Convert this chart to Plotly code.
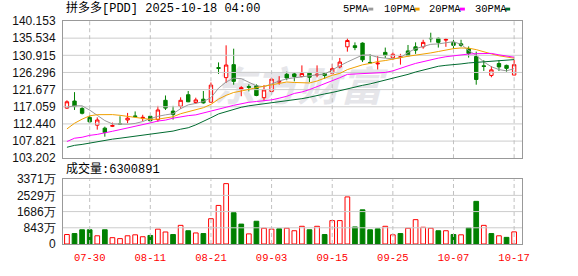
import plotly.graph_objects as go

# ---------------- data ----------------
dates = ["07-25", "07-28", "07-29", "07-30", "07-31", "08-01", "08-04", "08-05", "08-06", "08-07",
         "08-08", "08-11", "08-12", "08-13", "08-14", "08-15", "08-18", "08-19", "08-20", "08-21",
         "08-22", "08-25", "08-26", "08-27", "08-28", "08-29", "09-02", "09-03", "09-04", "09-05",
         "09-08", "09-09", "09-10", "09-11", "09-12", "09-15", "09-16", "09-17", "09-18", "09-19",
         "09-22", "09-23", "09-24", "09-25", "09-26", "09-29", "09-30", "10-01", "10-02", "10-03",
         "10-06", "10-07", "10-08", "10-09", "10-10", "10-13", "10-14", "10-15", "10-16", "10-17"]

opens = [116.7, 118.6, 116.6, 114.2, 112.1, 111.3, 111.8, 112.5, 113.5, 114.6,
         114.0, 114.5, 113.6, 118.8, 115.9, 117.2, 120.3, 118.2, 119.1, 118.3,
         127.6, 124.9, 128.4, 121.7, 122.5, 122.7, 119.5, 121.2, 123.7, 125.8,
         125.9, 125.2, 126.1, 125.6, 126.0, 126.1, 127.8, 133.2, 133.5, 134.2,
         129.0, 128.6, 131.7, 130.3, 130.4, 132.1, 133.2, 133.2, 135.5, 135.5,
         135.0, 134.4, 134.0, 132.7, 130.6, 128.1, 125.5, 128.7, 128.2, 125.6]
highs = [118.8, 121.0, 117.1, 114.8, 114.2, 111.7, 112.8, 114.5, 115.4, 115.8,
         114.9, 114.6, 117.3, 120.1, 117.3, 119.6, 121.3, 119.5, 121.3, 123.6,
         129.0, 133.6, 132.7, 122.6, 123.1, 123.1, 122.9, 124.8, 125.3, 126.5,
         126.3, 128.2, 126.3, 128.2, 126.2, 128.6, 130.2, 135.5, 134.4, 134.4,
         131.2, 130.7, 133.0, 131.7, 131.3, 133.7, 134.4, 135.1, 137.0, 135.7,
         135.5, 135.1, 135.1, 133.3, 131.9, 129.6, 128.0, 129.6, 128.4, 129.7]
lows = [116.5, 116.2, 115.0, 112.6, 110.9, 109.0, 111.6, 112.3, 112.6, 114.3,
        113.2, 113.0, 113.0, 116.2, 113.6, 116.5, 118.3, 117.8, 117.9, 118.1,
        125.9, 123.5, 123.0, 119.9, 121.2, 119.9, 118.7, 120.9, 123.0, 124.2,
        123.9, 125.0, 123.7, 125.0, 124.6, 125.8, 127.4, 131.9, 132.3, 129.1,
        128.8, 127.1, 130.2, 129.7, 128.4, 130.7, 131.3, 132.7, 134.4, 133.0,
        133.2, 132.7, 133.2, 130.3, 123.0, 126.7, 125.0, 126.7, 126.5, 125.6]
closes = [118.4, 117.1, 115.3, 113.0, 113.5, 110.1, 112.0, 112.4, 114.0, 114.4,
          114.2, 113.3, 116.2, 116.7, 115.0, 118.8, 118.4, 118.9, 118.1, 122.9,
          127.4, 128.3, 123.9, 122.2, 122.3, 120.1, 121.6, 124.5, 123.9, 124.8,
          125.2, 126.0, 125.0, 125.8, 125.5, 127.3, 129.1, 134.9, 133.0, 129.7,
          128.9, 128.8, 130.9, 131.2, 130.5, 130.8, 132.3, 134.4, 135.4, 134.4,
          135.2, 133.6, 133.6, 131.4, 124.4, 127.9, 127.0, 127.8, 127.4, 128.4]

ma5 = [116.93, 117.32, 117.32, 116.16, 114.75, 113.34, 112.44, 112.36, 112.36, 112.57,
       113.08, 113.86, 114.49, 114.88, 115.19, 116.55, 117.57, 117.96, 118.47, 119.50,
       122.06, 123.73, 124.76, 124.63, 123.73, 122.70, 122.45, 123.29, 123.99, 124.58,
       124.88, 125.14, 125.40, 125.66, 125.86, 127.07, 128.09, 129.12, 130.15, 130.99,
       130.99, 130.40, 130.15, 129.97, 130.27, 131.68, 132.71, 133.35, 133.87, 133.99,
       134.38, 134.58, 133.87, 132.20, 130.92, 129.12, 127.84, 127.07, 126.73, 127.32]
ma10 = [111.10, 112.62, 113.72, 114.62, 114.93, 115.00, 114.95, 114.75, 114.44, 114.11,
        113.80, 113.65, 113.72, 114.11, 114.37, 115.19, 115.78, 116.16, 116.80, 117.70,
        119.11, 120.14, 120.91, 121.29, 121.81, 122.19, 122.58, 122.96, 123.35, 123.73,
        123.60, 123.47, 123.47, 123.99, 124.76, 125.53, 126.04, 127.07, 127.71, 128.35,
        128.73, 129.24, 129.50, 129.81, 130.27, 130.66, 130.92, 131.30, 131.56, 131.94,
        132.33, 132.71, 132.89, 132.84, 132.45, 131.81, 131.30, 130.79, 130.40, 130.15]
ma20 = [107.69, 108.59, 108.85, 109.36, 109.62, 110.13, 110.46, 110.90, 111.34, 111.75,
        112.13, 112.71, 113.22, 113.47, 113.98, 114.42, 114.67, 114.88, 115.44, 115.90,
        116.37, 116.93, 117.45, 117.96, 118.27, 118.47, 118.60, 118.91, 119.37, 119.88,
        120.65, 121.04, 121.68, 122.45, 123.22, 123.99, 124.88, 125.78, 125.91, 126.04,
        126.04, 126.12, 126.30, 126.73, 127.32, 128.09, 128.73, 129.24, 129.63, 130.15,
        130.53, 130.79, 131.10, 131.25, 131.35, 131.43, 131.43, 131.04, 130.66, 130.40]
ma30 = [106.15, 106.67, 106.92, 107.31, 107.57, 107.95, 108.34, 108.59, 108.85, 109.23,
        109.49, 109.75, 110.05, 110.26, 110.51, 111.02, 111.41, 112.18, 113.08, 114.11,
        115.13, 115.78, 116.42, 116.93, 117.32, 117.57, 117.83, 118.09, 118.34, 118.60,
        118.86, 119.24, 119.63, 120.14, 120.52, 120.91, 121.42, 121.94, 122.45, 122.83,
        123.22, 123.73, 124.11, 124.63, 125.14, 125.78, 126.42, 126.94, 127.32, 127.96,
        128.22, 128.35, 128.60, 128.86, 129.04, 129.24, 129.37, 129.50, 129.63, 129.76]

# volume in 万 (10k shares); "r" = up day, "g" = down day
volumes = [493, 543, 740, 740, 427, 740, 329, 280, 427, 477,
           378, 444, 773, 625, 493, 970, 690, 575, 543, 1315,
           2006, 3140, 1628, 1036, 526, 1184, 822, 773, 789, 822,
           690, 921, 740, 921, 493, 1217, 1217, 2450, 888, 1776,
           740, 789, 921, 477, 543, 822, 1266, 871, 822, 690,
           690, 493, 477, 838, 2219, 970, 543, 427, 345, 630]
vol_dir = ["r", "g", "g", "g", "r", "g", "r", "r", "r", "r",
           "r", "g", "r", "r", "g", "r", "g", "r", "g", "r",
           "r", "r", "g", "g", "r", "g", "r", "r", "g", "r",
           "r", "r", "g", "r", "g", "r", "r", "r", "g", "g",
           "g", "g", "r", "r", "g", "r", "r", "r", "r", "g",
           "r", "g", "r", "g", "g", "r", "g", "r", "g", "r"]

x_tick_labels = ["07-30", "08-11", "08-21", "09-03", "09-15", "09-25", "10-07", "10-17"]
price_ticks = [103.202, 107.821, 112.440, 117.059, 121.677, 126.296, 130.915, 135.534, 140.153]
vol_ticks = [0, 843, 1686, 2529, 3371]
vol_tick_text = ["0", "843万", "1686万", "2529万", "3371万"]

title_text = "拼多多[PDD] 2025-10-18 04:00"
vol_title = "成交量:6300891"
ma_names = ["5PMA", "10PMA", "20PMA", "30PMA"]
watermark = "东方财富"

# ---------------- styles ----------------
RED = "#ff0000"
GREEN = "#008000"
MA_COLORS = ["#9a9a9a", "#f0a000", "#ff00ff", "#006b30"]
GRID = "#cccccc"
VGRID = "#c0c0c0"
BORDER = "#999999"
W, H = 578, 276
L, R, T, B = 56, 522, 21, 255
XRANGE = [-0.52, 60.04]


def px(x):
    return (x - L) / (R - L)


def py(y):
    return (B - y) / (B - T)


idx = list(range(len(dates)))
tickvals = [dates.index(d) for d in x_tick_labels]
main_dom = [py(165), 1]
vol_dom = [0, py(187)]

fig = go.Figure()


def grid_traces(yticks, yrange, xa, ya):
    """Horizontal solid + vertical dashed grid lines drawn from the axis ticks."""
    hx, hy = [], []
    for t in yticks:
        hx += [XRANGE[0], XRANGE[1], None]
        hy += [t, t, None]
    vx, vy = [], []
    for t in tickvals:
        vx += [t, t, None]
        vy += [yrange[0], yrange[1], None]
    return [
        go.Scatter(x=hx, y=hy, mode="lines", line=dict(color=GRID, width=1),
                   hoverinfo="skip", showlegend=False, xaxis=xa, yaxis=ya),
        go.Scatter(x=vx, y=vy, mode="lines", line=dict(color=VGRID, width=1, dash="4px,3px"),
                   hoverinfo="skip", showlegend=False, xaxis=xa, yaxis=ya),
    ]


for tr in grid_traces(price_ticks[1:-1], [price_ticks[0], price_ticks[-1]], "x", "y"):
    fig.add_trace(tr)
for tr in grid_traces(vol_ticks[1:-1], [0, vol_ticks[-1]], "x2", "y2"):
    fig.add_trace(tr)

for name, vals, col in zip(ma_names, [ma5, ma10, ma20, ma30], MA_COLORS):
    fig.add_trace(go.Scatter(x=idx, y=vals, mode="lines", name=name,
                             line=dict(color=col, width=1),
                             hoverinfo="skip", showlegend=False,
                             xaxis="x", yaxis="y"))

fig.add_trace(go.Candlestick(
    x=idx, open=opens, high=highs, low=lows, close=closes,
    increasing=dict(line=dict(color=RED, width=1), fillcolor="#ffffff"),
    decreasing=dict(line=dict(color=GREEN, width=1), fillcolor=GREEN),
    whiskerwidth=0, showlegend=False, hoverinfo="skip",
    xaxis="x", yaxis="y"))

fig.add_trace(go.Bar(
    x=idx, y=volumes, width=0.62,
    marker=dict(color=["#ffffff" if d == "r" else GREEN for d in vol_dir],
                line=dict(color=[RED if d == "r" else GREEN for d in vol_dir], width=1)),
    showlegend=False, hoverinfo="skip", xaxis="x2", yaxis="y2"))

xcommon = dict(range=XRANGE, tickvals=tickvals, showgrid=False,
               showline=True, mirror=True, linecolor=BORDER, linewidth=1,
               zeroline=False, ticks="", fixedrange=True)
ycommon = dict(showgrid=False, showline=True,
               mirror=True, linecolor=BORDER, linewidth=1, zeroline=False,
               ticks="", ticklabelstandoff=4,
               tickfont=dict(family="Liberation Sans, Arial", size=12, color="#111111"))

annotations = [
    dict(x=px(57), y=py(8), xref="paper", yref="paper", xanchor="left", yanchor="middle",
         text=title_text, showarrow=False,
         font=dict(family="Liberation Mono, Noto Sans CJK SC", size=12, color="#000000")),
    dict(x=px(57), y=py(176.5), xref="paper", yref="paper", xanchor="left", yanchor="middle",
         text=vol_title, showarrow=False,
         font=dict(family="Liberation Mono, Noto Sans CJK SC", size=12, color="#000000")),
]
shapes = []
leg_text_x = [338, 380, 426, 472]
leg_sq_x = [366, 413, 459, 505]
for name, col, tx, sx in zip(ma_names, MA_COLORS, leg_text_x, leg_sq_x):
    annotations.append(dict(x=px(tx), y=py(8), xref="paper", yref="paper",
                            xanchor="left", yanchor="middle", text=name, showarrow=False,
                            font=dict(family="Liberation Mono", size=10.5, color="#000000")))
    shapes.append(dict(type="rect", xref="paper", yref="paper",
                       x0=px(sx), x1=px(sx + 5), y0=py(10), y1=py(7),
                       fillcolor=col, line=dict(width=0)))

# faint watermark, drawn beneath the data (plot background left transparent)
svg = ("data:image/svg+xml;utf8,"
       "<svg xmlns='http://www.w3.org/2000/svg' width='200' height='60'>"
       "<text x='100' y='47' text-anchor='middle' font-family='Noto Sans CJK SC' "
       "font-weight='bold' font-style='italic' font-size='44' fill='%23e6e6ea'>"
       + watermark + "</text></svg>")
images = [dict(source=svg, xref="paper", yref="paper", x=px(196), y=py(60),
               sizex=px(392) - px(196), sizey=py(60) - py(118),
               xanchor="left", yanchor="top", sizing="stretch", layer="below")]

fig.update_layout(
    width=W, height=H,
    margin=dict(l=L, r=W - R, t=T, b=H - B, pad=0),
    paper_bgcolor="#ffffff", plot_bgcolor="rgba(0,0,0,0)",
    boxgap=0.36,
    bargap=0.3,
    xaxis=dict(**xcommon, anchor="y", showticklabels=False,
               rangeslider=dict(visible=False)),
    xaxis2=dict(**xcommon, anchor="y2", matches="x", showticklabels=True,
                ticktext=x_tick_labels, ticklabelstandoff=3,
                tickfont=dict(family="Liberation Mono", size=10.5, color=RED)),
    yaxis=dict(**ycommon, domain=main_dom, range=[price_ticks[0], price_ticks[-1]],
               tickvals=price_ticks, ticktext=[f"{v:.3f}" for v in price_ticks]),
    yaxis2=dict(**ycommon, domain=vol_dom, range=[0, vol_ticks[-1]],
                tickvals=vol_ticks, ticktext=vol_tick_text),
    annotations=annotations,
    shapes=shapes,
    images=images,
    showlegend=False,
)

fig.write_html("out.html")
